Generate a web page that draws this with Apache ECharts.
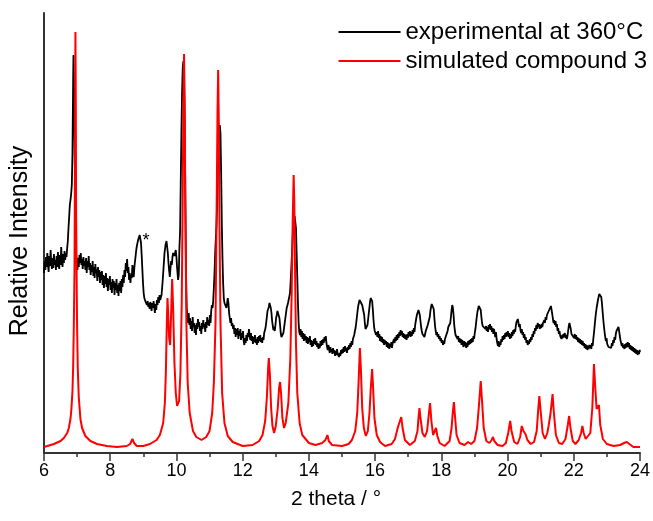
<!DOCTYPE html>
<html>
<head>
<meta charset="utf-8">
<script src="https://cdn.jsdelivr.net/npm/echarts@6/dist/echarts.min.js"></script>
<style>
html,body{margin:0;padding:0;background:#fff;}
#chart{width:653px;height:521px;}
</style>
</head>
<body>
<div id="chart"></div>
<script>
var seriesNames = ['experimental at 360°C', 'simulated compound 3'];
var xTitle = '2 theta / °';
var yTitle = 'Relative Intensity';

// experimental pattern (2theta, intensity in arbitrary units)
var experimental = [
[6.00,180],[6.02,192],[6.04,183],[6.06,196],[6.08,186],[6.10,200],[6.12,188],[6.14,181],[6.16,197],[6.18,187],
[6.20,203],[6.22,190],[6.24,184],[6.26,195],[6.28,185],[6.30,199],[6.32,188],[6.34,193],[6.36,183],[6.38,197],
[6.40,186],[6.42,201],[6.44,190],[6.46,184],[6.48,198],[6.50,188],[6.52,206],[6.54,192],[6.56,186],[6.58,199],
[6.60,190],[6.62,202],[6.64,193],[6.66,200],[6.68,196],[6.70,205],[6.72,212],[6.74,225],[6.76,236],[6.78,248],
[6.80,253],[6.82,259],[6.84,268],[6.86,300],[6.88,370],[6.89,398],[6.91,360],[6.93,290],[6.95,230],[6.97,200],
[6.99,188],[7.01,183],[7.03,195],[7.05,186],[7.07,198],[7.09,190],[7.11,200],[7.13,188],[7.15,194],[7.17,184],
[7.19,196],[7.21,187],[7.23,192],[7.25,183],[7.27,195],[7.29,180],[7.31,192],[7.33,186],[7.35,197],[7.37,183],
[7.39,190],[7.41,178],[7.43,188],[7.45,181],[7.47,192],[7.49,177],[7.51,186],[7.53,175],[7.55,189],[7.57,180],
[7.59,184],[7.61,172],[7.63,186],[7.65,176],[7.67,183],[7.69,170],[7.71,181],[7.73,173],[7.75,182],[7.77,168],
[7.79,178],[7.81,165],[7.83,177],[7.85,169],[7.87,180],[7.89,166],[7.91,175],[7.93,162],[7.95,174],[7.97,168],
[7.99,177],[8.01,163],[8.03,171],[8.05,160],[8.07,174],[8.09,165],[8.11,172],[8.13,158],[8.15,170],[8.17,163],
[8.19,174],[8.21,160],[8.23,168],[8.25,157],[8.27,170],[8.29,162],[8.31,172],[8.33,160],[8.35,174],[8.37,166],
[8.39,178],[8.41,170],[8.43,183],[8.45,176],[8.47,190],[8.49,182],[8.51,194],[8.53,180],[8.55,186],[8.57,173],
[8.59,180],[8.61,170],[8.63,178],[8.65,175],[8.67,188],[8.69,180],[8.71,176],[8.73,186],[8.75,192],[8.77,198],
[8.79,204],[8.81,208],[8.83,211],[8.85,214],[8.87,216],[8.89,218],[8.91,216],[8.93,210],[8.95,198],[8.97,184],
[8.99,170],[9.01,160],[9.03,155],[9.05,156],[9.07,151],[9.09,150],[9.11,148],[9.13,152],[9.15,146],[9.17,150],
[9.19,144],[9.21,151],[9.23,147],[9.25,142],[9.27,150],[9.29,145],[9.31,152],[9.33,146],[9.35,140],[9.37,149],
[9.39,143],[9.41,153],[9.43,148],[9.45,156],[9.47,150],[9.49,158],[9.51,153],[9.55,158],[9.58,170],[9.61,185],
[9.64,200],[9.67,208],[9.70,212],[9.72,210],[9.74,200],[9.76,190],[9.78,182],[9.80,176],[9.82,185],[9.84,192],
[9.86,188],[9.88,196],[9.90,200],[9.92,202],[9.94,197],[9.96,200],[9.98,203],[10.00,196],[10.02,185],[10.05,173],
[10.07,178],[10.09,205],[10.11,222],[10.13,270],[10.15,320],[10.17,360],[10.19,385],[10.21,392],[10.23,380],[10.25,330],
[10.27,250],[10.29,180],[10.31,145],[10.33,138],[10.35,130],[10.37,140],[10.39,128],[10.41,135],[10.43,124],[10.45,132],
[10.47,122],[10.49,136],[10.51,126],[10.53,130],[10.55,120],[10.57,128],[10.59,118],[10.61,130],[10.63,124],[10.65,134],
[10.67,126],[10.69,131],[10.71,122],[10.73,127],[10.75,119],[10.77,130],[10.79,124],[10.81,133],[10.83,126],[10.85,129],
[10.87,121],[10.89,131],[10.91,125],[10.93,136],[10.95,128],[10.97,133],[10.99,127],[11.01,138],[11.03,130],[11.05,142],
[11.07,148],[11.09,145],[11.11,152],[11.13,165],[11.15,180],[11.17,200],[11.19,215],[11.21,228],[11.23,250],[11.25,280],
[11.27,300],[11.29,318],[11.31,328],[11.33,320],[11.35,280],[11.37,230],[11.39,195],[11.41,170],[11.43,155],[11.45,150],
[11.47,148],[11.49,152],[11.51,145],[11.53,150],[11.55,155],[11.57,150],[11.59,140],[11.61,138],[11.63,130],[11.65,135],
[11.67,127],[11.69,130],[11.71,124],[11.73,128],[11.75,119],[11.77,125],[11.79,116],[11.81,124],[11.83,118],[11.85,125],
[11.87,114],[11.89,122],[11.91,117],[11.93,124],[11.95,113],[11.97,120],[11.99,115],[12.01,122],[12.03,112],[12.05,108],
[12.07,115],[12.09,110],[12.11,118],[12.13,112],[12.15,120],[12.17,116],[12.19,124],[12.21,118],[12.23,113],[12.25,120],
[12.27,112],[12.29,117],[12.31,109],[12.33,116],[12.35,111],[12.37,118],[12.39,110],[12.41,114],[12.43,108],[12.45,116],
[12.47,110],[12.49,117],[12.51,112],[12.53,118],[12.55,111],[12.57,115],[12.59,110],[12.61,116],[12.63,113],[12.65,120],
[12.67,118],[12.69,125],[12.71,130],[12.73,136],[12.75,142],[12.77,140],[12.79,146],[12.81,150],[12.83,152],[12.85,145],
[12.87,140],[12.89,132],[12.91,127],[12.93,123],[12.95,126],[12.97,122],[12.99,128],[13.01,135],[13.03,138],[13.05,142],
[13.07,140],[13.09,143],[13.11,135],[13.13,128],[13.15,120],[13.17,116],[13.19,118],[13.21,115],[13.23,120],[13.25,125],
[13.27,130],[13.29,135],[13.31,140],[13.33,145],[13.35,146],[13.37,150],[13.39,148],[13.41,152],[13.43,160],[13.45,172],
[13.47,185],[13.49,200],[13.51,215],[13.53,228],[13.55,234],[13.57,237],[13.59,235],[13.61,225],[13.63,200],[13.65,175],
[13.67,150],[13.69,130],[13.71,121],[13.73,118],[13.75,124],[13.77,116],[13.79,122],[13.81,114],[13.83,120],[13.85,112],
[13.87,119],[13.89,113],[13.91,117],[13.93,110],[13.95,116],[13.97,109],[13.99,115],[14.01,111],[14.03,117],[14.05,108],
[14.07,113],[14.09,106],[14.11,112],[14.13,107],[14.15,114],[14.17,109],[14.19,115],[14.21,108],[14.23,112],[14.25,106],
[14.27,110],[14.29,104],[14.31,109],[14.33,105],[14.35,112],[14.37,107],[14.39,113],[14.41,108],[14.43,114],[14.45,110],
[14.47,116],[14.49,112],[14.51,117],[14.53,110],[14.55,106],[14.57,103],[14.59,108],[14.61,104],[14.63,100],[14.65,106],
[14.67,101],[14.69,104],[14.71,99],[14.73,105],[14.75,100],[14.77,103],[14.79,97],[14.81,102],[14.83,98],[14.85,104],
[14.87,99],[14.89,101],[14.91,96],[14.93,100],[14.95,97],[14.97,103],[14.99,99],[15.01,104],[15.03,100],[15.05,106],
[15.07,101],[15.09,107],[15.11,102],[15.13,105],[15.15,100],[15.17,106],[15.19,103],[15.21,108],[15.23,104],[15.25,110],
[15.27,106],[15.29,112],[15.31,108],[15.33,114],[15.35,112],[15.37,118],[15.39,122],[15.41,125],[15.43,130],[15.45,136],
[15.47,142],[15.49,147],[15.51,150],[15.53,153],[15.55,155],[15.57,154],[15.59,151],[15.61,148],[15.63,150],[15.65,146],
[15.67,138],[15.69,130],[15.71,124],[15.73,122],[15.75,124],[15.77,128],[15.79,134],[15.81,140],[15.83,146],[15.85,152],
[15.87,155],[15.89,156],[15.91,152],[15.93,144],[15.95,134],[15.97,126],[15.99,122],[16.01,124],[16.03,118],[16.05,121],
[16.07,116],[16.09,122],[16.11,115],[16.13,119],[16.15,112],[16.17,117],[16.19,111],[16.21,116],[16.23,110],[16.25,114],
[16.27,108],[16.29,113],[16.31,109],[16.33,112],[16.35,106],[16.37,111],[16.39,105],[16.41,110],[16.43,104],[16.45,109],
[16.47,106],[16.49,111],[16.51,105],[16.53,110],[16.55,108],[16.57,114],[16.59,110],[16.61,116],[16.63,112],[16.65,118],
[16.67,113],[16.69,119],[16.71,115],[16.73,121],[16.75,117],[16.77,123],[16.79,118],[16.81,122],[16.83,116],[16.85,120],
[16.87,115],[16.89,119],[16.91,114],[16.93,118],[16.95,113],[16.97,119],[16.99,115],[17.01,121],[17.03,117],[17.05,122],
[17.07,116],[17.09,121],[17.11,117],[17.13,123],[17.15,119],[17.17,125],[17.19,121],[17.21,128],[17.23,132],[17.25,136],
[17.27,139],[17.29,141],[17.31,143],[17.33,142],[17.35,138],[17.37,132],[17.39,126],[17.41,122],[17.43,119],[17.45,117],
[17.47,120],[17.49,116],[17.51,119],[17.53,122],[17.55,120],[17.57,124],[17.59,128],[17.61,126],[17.63,130],[17.65,136],
[17.67,142],[17.69,146],[17.71,149],[17.73,148],[17.75,150],[17.77,144],[17.79,135],[17.81,127],[17.83,122],[17.85,118],
[17.87,121],[17.89,116],[17.91,119],[17.93,114],[17.95,117],[17.97,112],[17.99,115],[18.01,110],[18.03,113],[18.05,108],
[18.07,112],[18.09,109],[18.11,114],[18.13,112],[18.15,118],[18.17,116],[18.19,122],[18.21,126],[18.23,128],[18.25,125],
[18.27,130],[18.29,136],[18.31,143],[18.33,148],[18.35,145],[18.37,138],[18.39,128],[18.41,122],[18.43,118],[18.45,116],
[18.47,119],[18.49,114],[18.51,117],[18.53,111],[18.55,115],[18.57,110],[18.59,114],[18.61,108],[18.63,113],[18.65,109],
[18.67,106],[18.69,112],[18.71,107],[18.73,111],[18.75,105],[18.77,110],[18.79,106],[18.81,112],[18.83,108],[18.85,113],
[18.87,109],[18.89,114],[18.91,110],[18.93,115],[18.95,111],[18.97,117],[18.99,114],[19.01,120],[19.03,124],[19.05,130],
[19.07,136],[19.09,141],[19.11,144],[19.13,147],[19.15,149],[19.17,148],[19.19,143],[19.21,136],[19.23,130],[19.25,127],
[19.27,129],[19.29,125],[19.31,128],[19.33,124],[19.35,127],[19.37,122],[19.39,126],[19.41,121],[19.43,128],[19.45,124],
[19.47,129],[19.49,123],[19.51,127],[19.53,121],[19.55,125],[19.57,119],[19.59,124],[19.61,120],[19.63,116],[19.65,121],
[19.67,114],[19.69,110],[19.71,107],[19.73,112],[19.75,106],[19.77,111],[19.79,108],[19.81,114],[19.83,111],[19.85,117],
[19.87,113],[19.89,118],[19.91,114],[19.93,120],[19.95,116],[19.97,121],[19.99,117],[20.01,122],[20.03,116],[20.05,120],
[20.07,114],[20.09,119],[20.11,115],[20.13,121],[20.15,117],[20.17,123],[20.19,119],[20.21,124],[20.23,121],[20.25,127],
[20.27,131],[20.29,129],[20.31,134],[20.33,130],[20.35,126],[20.37,129],[20.39,123],[20.41,120],[20.43,124],[20.45,118],
[20.47,121],[20.49,115],[20.51,119],[20.53,113],[20.55,116],[20.57,110],[20.59,113],[20.61,108],[20.63,112],[20.65,109],
[20.67,114],[20.69,111],[20.71,116],[20.73,113],[20.75,119],[20.77,116],[20.79,122],[20.81,119],[20.83,125],[20.85,122],
[20.87,128],[20.89,124],[20.91,130],[20.93,126],[20.95,129],[20.97,124],[20.99,128],[21.01,125],[21.03,129],[21.05,126],
[21.07,130],[21.09,128],[21.11,133],[21.13,130],[21.15,136],[21.17,133],[21.19,138],[21.21,136],[21.23,141],[21.25,139],
[21.27,144],[21.29,146],[21.31,147],[21.33,143],[21.35,139],[21.37,134],[21.39,130],[21.41,133],[21.43,128],[21.45,132],
[21.47,126],[21.49,129],[21.51,122],[21.53,125],[21.55,119],[21.57,122],[21.59,117],[21.61,119],[21.63,114],[21.65,118],
[21.67,115],[21.69,119],[21.71,116],[21.73,120],[21.75,115],[21.77,118],[21.79,114],[21.81,117],[21.83,122],[21.85,127],
[21.87,130],[21.89,128],[21.91,124],[21.93,119],[21.95,121],[21.97,117],[21.99,121],[22.01,115],[22.03,119],[22.05,114],
[22.07,118],[22.09,113],[22.11,116],[22.13,111],[22.15,115],[22.17,110],[22.19,114],[22.21,109],[22.23,113],[22.25,108],
[22.27,112],[22.29,107],[22.31,110],[22.33,105],[22.35,109],[22.37,104],[22.39,108],[22.41,103],[22.43,107],[22.45,104],
[22.47,108],[22.49,105],[22.51,108],[22.53,104],[22.55,110],[22.57,107],[22.59,114],[22.61,120],[22.63,127],[22.65,134],
[22.67,140],[22.69,145],[22.71,149],[22.73,153],[22.75,156],[22.77,159],[22.79,161],[22.81,160],[22.83,156],[22.85,150],
[22.87,142],[22.89,134],[22.91,127],[22.93,121],[22.95,116],[22.97,112],[22.99,115],[23.01,109],[23.03,111],[23.05,106],
[23.07,108],[23.09,104],[23.11,108],[23.13,105],[23.15,110],[23.17,107],[23.19,113],[23.21,110],[23.23,116],[23.25,113],
[23.27,119],[23.29,122],[23.31,120],[23.33,124],[23.35,126],[23.37,122],[23.39,117],[23.41,113],[23.43,110],[23.45,107],
[23.47,110],[23.49,105],[23.51,108],[23.53,104],[23.55,109],[23.57,105],[23.59,110],[23.61,106],[23.63,111],[23.65,106],
[23.67,110],[23.69,104],[23.71,108],[23.73,103],[23.75,107],[23.77,102],[23.79,106],[23.81,101],[23.83,105],[23.85,100],
[23.87,104],[23.89,99],[23.91,103],[23.93,98],[23.95,102],[23.97,99],[23.99,103],[24.00,101]
];

// simulated pattern
var simulated = [
[6.0,6],[6.3,9],[6.5,12],[6.6,15],[6.7,20],[6.75,25],[6.8,34],[6.83,45],[6.86,62],[6.88,85],[6.9,126],[6.92,180],
[6.93,240],[6.94,350],[6.95,421],[6.96,350],[6.97,240],[6.99,160],[7.0,126],[7.02,85],[7.05,56],[7.1,34],[7.15,25],
[7.25,17],[7.4,12],[7.6,9],[7.9,7],[8.2,6],[8.5,7],[8.6,9],[8.67,14],[8.72,10],[8.8,7],[9.0,7],[9.2,9],[9.4,13],
[9.5,18],[9.6,30],[9.65,50],[9.68,80],[9.71,130],[9.73,155],[9.75,140],[9.78,115],[9.81,108],[9.84,140],[9.87,174],
[9.9,145],[9.94,90],[9.98,60],[10.02,47],[10.05,46],[10.08,52],[10.12,80],[10.16,150],[10.19,260],[10.21,350],
[10.23,399],[10.25,340],[10.27,240],[10.3,130],[10.34,70],[10.4,40],[10.5,22],[10.6,16],[10.76,13],[10.9,16],
[11.0,22],[11.08,40],[11.13,70],[11.18,130],[11.21,230],[11.24,340],[11.26,383],[11.28,330],[11.3,230],[11.33,130],
[11.38,60],[11.45,30],[11.55,17],[11.7,11],[12.0,7],[12.3,8],[12.5,12],[12.6,18],[12.68,32],[12.73,55],[12.77,85],
[12.79,95],[12.82,80],[12.86,45],[12.9,27],[12.95,20],[13.0,27],[13.06,45],[13.1,65],[13.13,71],[13.16,60],[13.2,35],
[13.25,25],[13.3,30],[13.38,50],[13.44,95],[13.48,160],[13.51,230],[13.54,278],[13.56,250],[13.58,190],[13.61,110],
[13.65,60],[13.72,30],[13.8,18],[14.0,10],[14.2,8],[14.4,10],[14.5,13],[14.56,18],[14.6,12],[14.7,8],[15.0,7],
[15.2,9],[15.3,13],[15.4,22],[15.46,40],[15.5,70],[15.54,105],[15.57,85],[15.61,45],[15.66,25],[15.72,17],[15.78,22],
[15.83,40],[15.87,65],[15.91,84],[15.94,65],[15.98,35],[16.05,18],[16.15,11],[16.3,7],[16.5,9],[16.6,14],[16.69,26],
[16.74,28],[16.79,36],[16.83,25],[16.9,13],[17.05,8],[17.2,12],[17.28,22],[17.31,35],[17.34,45],[17.37,35],[17.43,20],
[17.5,16],[17.57,22],[17.62,38],[17.66,50],[17.7,32],[17.75,18],[17.8,20],[17.84,25],[17.88,17],[17.95,10],[18.1,7],
[18.25,12],[18.31,25],[18.35,42],[18.38,51],[18.41,38],[18.46,18],[18.55,10],[18.7,8],[18.81,11],[18.9,9],[19.0,12],
[19.08,25],[19.13,45],[19.19,72],[19.23,52],[19.28,25],[19.36,12],[19.45,10],[19.52,13],[19.56,16],[19.6,12],[19.7,8],
[19.85,7],[19.95,10],[20.02,20],[20.08,32],[20.12,22],[20.2,11],[20.3,9],[20.38,16],[20.43,27],[20.48,22],[20.54,19],
[20.6,13],[20.7,9],[20.8,11],[20.88,22],[20.93,45],[20.96,57],[21.0,42],[21.06,20],[21.13,14],[21.2,20],[21.24,27],
[21.3,40],[21.36,59],[21.4,40],[21.46,18],[21.55,10],[21.65,9],[21.75,14],[21.82,28],[21.86,37],[21.9,25],[21.97,12],
[22.05,9],[22.15,13],[22.22,20],[22.26,27],[22.3,20],[22.36,14],[22.42,13],[22.5,20],[22.56,45],[22.61,89],[22.65,65],
[22.69,44],[22.72,46],[22.76,48],[22.8,28],[22.88,14],[23.0,9],[23.2,7],[23.4,8],[23.52,10],[23.6,11],[23.66,9],
[23.8,6],[24.0,6]
];

// annotation on the experimental pattern
var starMark = {coord: [9.08, 212], text: '*'};

var chart = echarts.init(document.getElementById('chart'), null, {renderer: 'canvas'});
var font = 'Liberation Sans, Arial, Helvetica, sans-serif';
chart.setOption({
  animation: false,
  backgroundColor: '#ffffff',
  textStyle: {fontFamily: font},
  grid: {left: 43, right: 10, top: 13, bottom: 68, containLabel: false},
  legend: {
    data: seriesNames,
    orient: 'vertical',
    right: 6,
    top: 20,
    padding: 0,
    icon: 'rect',
    itemWidth: 62,
    itemHeight: 2,
    itemGap: 5,
    textStyle: {fontSize: 24, color: '#000', fontFamily: font, lineHeight: 24}
  },
  xAxis: {
    type: 'value',
    min: 6, max: 24, interval: 2,
    name: xTitle,
    nameLocation: 'middle',
    nameGap: 36,
    nameTextStyle: {fontSize: 21, color: '#000', fontFamily: font, padding: [0, 12, 0, 0]},
    axisLine: {show: true, onZero: false, lineStyle: {color: '#333', width: 2}},
    axisTick: {show: true, inside: false, length: 8, lineStyle: {color: '#333', width: 1.5}},
    minorTick: {show: true, splitNumber: 2, length: 4, lineStyle: {color: '#333', width: 1.5}},
    axisLabel: {fontSize: 18, color: '#000', margin: 9, fontFamily: font},
    splitLine: {show: false}
  },
  yAxis: {
    type: 'value',
    min: 0, max: 440,
    name: yTitle,
    nameLocation: 'middle',
    nameGap: 11,
    nameTextStyle: {fontSize: 25, color: '#000', fontFamily: font, padding: [0, 16, 0, 0]},
    axisLine: {show: true, lineStyle: {color: '#333', width: 2}},
    axisTick: {show: false},
    axisLabel: {show: false},
    splitLine: {show: false}
  },
  series: [
    {
      name: seriesNames[0],
      type: 'line',
      data: experimental,
      symbol: 'none',
      lineStyle: {color: '#000', width: 1.8},
      itemStyle: {color: '#000'},
      markPoint: {
        symbol: 'circle',
        symbolSize: 0,
        silent: true,
        data: [{coord: starMark.coord, value: starMark.text}],
        label: {show: true, position: 'inside', formatter: starMark.text, fontSize: 18, color: '#000', fontFamily: font}
      }
    },
    {
      name: seriesNames[1],
      type: 'line',
      data: simulated,
      symbol: 'none',
      lineStyle: {color: '#ff0000', width: 2},
      itemStyle: {color: '#ff0000'}
    }
  ]
});
</script>
</body>
</html>
